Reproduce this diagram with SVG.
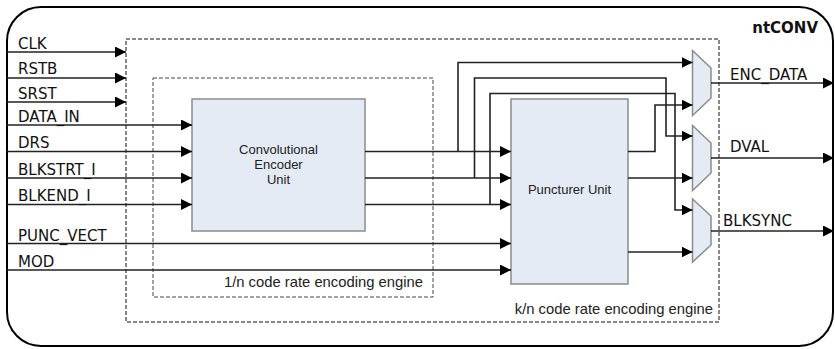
<svg xmlns="http://www.w3.org/2000/svg" width="835" height="349" viewBox="0 0 835 349">
<style>
.lbl{font-family:"DejaVu Sans",Verdana,sans-serif;font-size:15px;fill:#111}
.nt{font-family:"DejaVu Sans",Verdana,sans-serif;font-size:15px;font-weight:bold;fill:#111}
.node{font-family:"Liberation Sans",Arial,sans-serif;font-size:13px;fill:#222}
.eng{font-family:"Liberation Sans",Arial,sans-serif;font-size:14.8px;fill:#222}
.box{fill:#e5ebf5;stroke:#8c8c8c;stroke-width:1.5}
.dash{fill:none;stroke:#111;stroke-width:1;stroke-dasharray:4,2}
.dash2{fill:none;stroke:#444;stroke-width:1;stroke-dasharray:4,2}
.w{fill:none;stroke:#222;stroke-width:1.6}
.a{marker-end:url(#ah)}
</style>
<defs>
<marker id="ah" markerUnits="userSpaceOnUse" markerWidth="11" markerHeight="11" refX="10" refY="5" orient="auto" viewBox="0 0 10 10">
<path d="M0,0 L10,5 L0,10 z" fill="#000"/>
</marker>
</defs>
<rect width="835" height="349" fill="#fff"/>
<g id="ntCONV">
<rect x="7" y="7" width="826" height="339" rx="34" ry="34" fill="none" stroke="#000" stroke-width="2"/>
<text class="nt" x="818" y="33" text-anchor="end">ntCONV</text>
</g>
<g id="kn_engine">
<rect class="dash" x="126" y="39" width="593" height="283"/>
<text class="eng" x="713" y="314" text-anchor="end">k/n code rate encoding engine</text>
</g>
<g id="one_n_engine">
<rect class="dash2" x="153" y="78" width="280" height="219"/>
<text class="eng" x="423" y="287" text-anchor="end">1/n code rate encoding engine</text>
</g>
<g id="encoder">
<rect class="box" x="192" y="99" width="173" height="132"/>
<text class="node" x="278.5" y="154" text-anchor="middle">Convolutional</text>
<text class="node" x="278.5" y="169" text-anchor="middle">Encoder</text>
<text class="node" x="278.5" y="184" text-anchor="middle">Unit</text>
</g>
<g id="puncturer">
<rect class="box" x="511" y="99" width="117" height="185"/>
<text class="node" x="569.5" y="194" text-anchor="middle">Puncturer Unit</text>
</g>
<g id="mux_enc_data">
<path class="box" d="M692.5,50.5 L711,68 L711,98 L692.5,115.5 Z"/>
</g>
<g id="mux_dval">
<path class="box" d="M692.5,125.5 L711,143 L711,173 L692.5,190.5 Z"/>
</g>
<g id="mux_blksync">
<path class="box" d="M692.5,199 L711,216 L711,245 L692.5,262 Z"/>
</g>
<g id="connectors">
<path class="w a" d="M7,52 H126"/>
<path class="w a" d="M7,78 H126"/>
<path class="w a" d="M7,102 H126"/>
<path class="w a" d="M7,125 H192"/>
<path class="w a" d="M7,151.5 H192"/>
<path class="w a" d="M7,178 H192"/>
<path class="w a" d="M7,204.5 H192"/>
<path class="w a" d="M7,243.5 H511"/>
<path class="w a" d="M7,270 H511"/>
<path class="w a" d="M365,151.5 H511"/>
<path class="w a" d="M365,178 H511"/>
<path class="w a" d="M365,204.5 H511"/>
<path class="w a" d="M458,151.5 V62.5 H692.5"/>
<path class="w a" d="M474.5,178 V78 H666 V136 H692.5"/>
<path class="w a" d="M490,204.5 V93.5 H675 V210 H692.5"/>
<path class="w a" d="M628,151.5 H655 V105 H692.5"/>
<path class="w a" d="M628,178 H692.5"/>
<path class="w a" d="M628,252 H692.5"/>
<path class="w a" d="M711,83 H834"/>
<path class="w a" d="M711,158 H834"/>
<path class="w a" d="M711,231 H834"/>
</g>
<g id="labels">
<text class="lbl" x="18" y="49">CLK</text>
<text class="lbl" x="18" y="74">RSTB</text>
<text class="lbl" x="18" y="99">SRST</text>
<text class="lbl" x="18" y="122">DATA_IN</text>
<text class="lbl" x="18" y="148">DRS</text>
<text class="lbl" x="18" y="175">BLKSTRT_I</text>
<text class="lbl" x="18" y="201">BLKEND_I</text>
<text class="lbl" x="18" y="241">PUNC_VECT</text>
<text class="lbl" x="18" y="267">MOD</text>
<text class="lbl" x="730" y="80">ENC_DATA</text>
<text class="lbl" x="730" y="152">DVAL</text>
<text class="lbl" x="723" y="226">BLKSYNC</text>
</g>
</svg>
